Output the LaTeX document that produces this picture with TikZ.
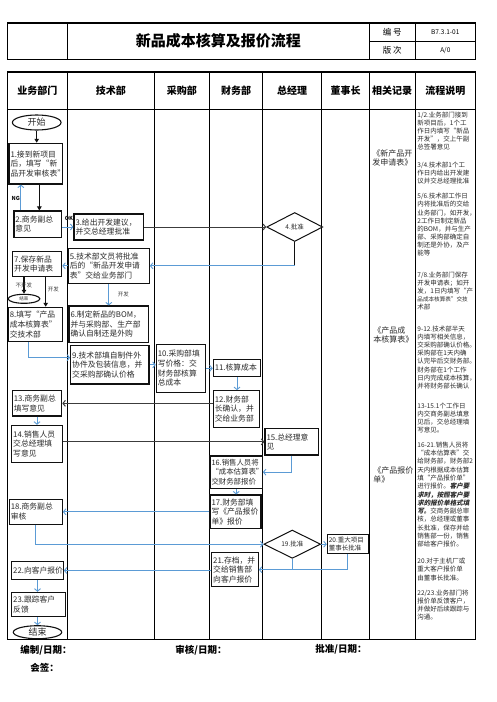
\documentclass[tikz,border=0pt]{standalone}
\usepackage{fontspec}
\setmainfont{Noto Sans CJK SC}
\newfontfamily\slfont[FakeSlant=0.2]{Noto Sans CJK SC}
\usetikzlibrary{arrows.meta,shapes.geometric,calc}
\definecolor{ink}{HTML}{111111}
\definecolor{ink2}{HTML}{3C3C3C}
\definecolor{txt}{HTML}{2B2B2B}
\definecolor{cblue}{HTML}{5B9BD5}
\tikzset{
  every picture/.style={line width=0.8pt,font=\fontsize{7.8}{9.6}\selectfont},
  bx/.style={draw=ink,line width=1.1pt,fill=white,align=left,inner sep=1.5pt,text=txt},
  term/.style={ellipse,draw=ink,line width=1.1pt,inner sep=0pt,text=txt,font=\fontsize{9}{10}\selectfont},
  dec/.style={diamond,draw=ink,line width=1pt,inner sep=0pt,text=txt,font=\fontsize{6.5}{8}\selectfont},
  ba/.style={-{Straight Barb[length=2.5pt,width=6pt]},draw=cblue,line width=0.9pt},
  bl/.style={draw=cblue,line width=0.9pt},
  ga/.style={-{Straight Barb[length=2.5pt,width=6pt]},draw=ink2,line width=1pt},
  ka/.style={-{Triangle[length=4pt,width=4.5pt]},draw=ink,line width=1.1pt},
  lab/.style={inner sep=0.5pt,font=\fontsize{5.5}{6}\selectfont,text=ink2},
  hd/.style={font=\fontsize{10}{12}\selectfont\bfseries},
  note/.style={anchor=north west,align=left,inner sep=0pt,text=txt,font=\fontsize{6.5}{8.1}\selectfont},
  rec/.style={anchor=west,align=left,inner sep=0pt,text=txt,font=\fontsize{8}{9}\selectfont},
  foot/.style={anchor=west,inner sep=0pt,font=\fontsize{9.5}{11}\selectfont\bfseries},
}
\begin{document}
\begin{tikzpicture}[x=1pt,y=-1pt]
  \useasboundingbox (0,0) rectangle (496,702);
  \fill[white] (0,0) rectangle (496,702);
  % title block
  \draw[line width=1.2pt] (7.3,23) rectangle (475.7,59.3);
  \draw (67.3,23) -- (67.3,59.3) (369.3,23) -- (369.3,59.3) (415,23) -- (415,59.3);
  \draw[line width=1.2pt] (369.3,41.2) -- (475.7,41.2);
  \node[font=\fontsize{15}{18}\selectfont\bfseries] (title) at (218.3,41.2) {新品成本核算及报价流程};
  \node[font=\fontsize{8.5}{10}\selectfont] (no) at (392.2,32.2) {编 号};
  \node[font=\fontsize{8.5}{10}\selectfont] (ver) at (392.2,50.2) {版 次};
  \node[font=\fontsize{6.5}{8}\selectfont] (nov) at (445.3,32.2) {B7.3.1-01};
  \node[font=\fontsize{6.5}{8}\selectfont] (verv) at (445.3,50.2) {A/0};
  % lanes
  \draw[line width=1.4pt] (7.3,72) rectangle (475.7,639.3);
  \draw[line width=1.4pt] (7.3,109.3) -- (475.7,109.3);
  \foreach \x in {67.3,154.3,209.3,262.7,321.7,369.3,415} \draw[line width=1pt] (\x,72) -- (\x,639.3);
  \foreach \x/\n [count=\i] in {37.3/业务部门,110.8/技术部,181.8/采购部,236/财务部,292.2/总经理,345.5/董事长,392.2/相关记录,445.3/流程说明}
    \node[hd] (lane\i) at (\x,90.5) {\n};

  \node[term,minimum width=48.7pt,minimum height=15pt] (s) at (36.7,122.5) {开始};
  \node[bx,text width=50.7pt,minimum height=40.7pt] (b1) at (35.85,163.65) {1.接到新项目\\后，填写“新\\品开发审核表”};
  \node[bx,text width=44.7pt,minimum height=26.3pt] (b2) at (37.85,224.15) {2.商务副总\\意见};
  \node[bx,text width=66.3pt,minimum height=26pt] (b3) at (108.65,227) {3.给出开发建议，\\并交总经理批准};
  \node[dec,minimum width=56pt,minimum height=29pt] (d4) at (294.7,227) {4.批准};
  \node[bx,text width=78pt,minimum height=35pt] (b5) at (108.8,265.8) {5.技术部文员将批准\\后的“新品开发申请\\表”交给业务部门};
  \node[bx,text width=46pt,minimum height=25pt] (b7) at (37.2,264.2) {7.保存新品\\开发申请表};
  \node[term,minimum width=31.7pt,minimum height=9pt,font=\fontsize{4.5}{5}\selectfont] (e0) at (24,298.8) {结束};
  \node[bx,text width=51pt,minimum height=34.4pt] (b8) at (35.3,324.5) {8.填写“产品\\成本核算表”\\交技术部};
  \node[bx,text width=76.3pt,minimum height=36.3pt] (b6) at (108.65,324.15) {6.制定新品的BOM，\\并与采购部、生产部\\确认自制还是外购};
  \node[bx,text width=75.3pt,minimum height=38.3pt] (b9) at (109.85,364.85) {9.技术部填自制件外\\协件及包装信息，并\\交采购部确认价格};
  \node[bx,text width=46.4pt,minimum height=48pt] (b10) at (181,368.3) {10.采购部填\\写价格：交\\财务部核算\\总成本};
  \node[bx,text width=44.4pt,minimum height=17.4pt] (b11) at (237,368) {11.核算成本};
  \node[bx,text width=43pt,minimum height=36.6pt] (b12) at (236.3,409) {12.财务部\\长确认，并\\交给业务部};
  \node[bx,text width=46.4pt,minimum height=25.3pt] (b13) at (37,403.35) {13.商务副总\\填写意见};
  \node[bx,text width=47.6pt,minimum height=37pt] (b14) at (37,443.8) {14.销售人员\\交总经理填\\写意见};
  \node[bx,text width=50.3pt,minimum height=26.3pt] (b15) at (291.65,441.85) {15.总经理意\\见};
  \node[bx,text width=49.3pt,minimum height=32.3pt,font=\fontsize{7.4}{9.4}\selectfont] (b16) at (236.15,472.15) {16.销售人员将\\“成本估算表”\\交财务部报价};
  \node[bx,text width=48pt,minimum height=33.3pt] (b17) at (235.5,511.65) {17.财务部填\\写《产品报价\\单》报价};
  \node[bx,text width=50pt,minimum height=25pt] (b18) at (35.8,511.8) {18.商务副总\\审核};
  \node[dec,minimum width=56.7pt,minimum height=28.3pt] (d19) at (292.3,544.2) {19.批准};
  \node[bx,text width=38pt,minimum height=19pt,font=\fontsize{6.5}{8}\selectfont] (b20) at (347.8,543.8) {20.重大项目\\董事长批准};
  \node[bx,text width=43.6pt,minimum height=34pt] (b21) at (235,569.7) {21.存档，并\\交给销售部\\向客户报价};
  \node[bx,text width=48.6pt,minimum height=17.6pt] (b22) at (37.5,570.5) {22.向客户报价};
  \node[bx,text width=50.6pt,minimum height=24.4pt] (b23) at (38.5,604.5) {23.跟踪客户\\反馈};
  \node[term,minimum width=48.4pt,minimum height=13pt] (e1) at (37.5,632.2) {结束};

  \draw[ka] (s.south) -- (s.south |- b1.north);
  \draw[ka] ([xshift=3.5pt]b1.south) -- ([xshift=3.5pt]b1.south |- b2.north);
  \draw[ba] ([xshift=-17pt]b2.north) -- ([xshift=-17pt]b2.north |- b1.south) node[pos=0.45,anchor=east,lab,font=\fontsize{5.5}{6}\selectfont\bfseries,text=ink] (ng) {NG};
  \draw[ba] (b2.east |- b3.west) -- (b3.west) node[pos=0.6,above=5pt,lab,font=\fontsize{5.5}{6}\selectfont\bfseries,text=ink] (ok) {OK};
  \draw[ga] (b3.east) -- (d4.west);
  \draw[ink] (d4.south) -- (d4.south |- b5.east) coordinate (c4);
  \draw[ba] (c4) -- (b5.east);
  \draw[ba] (b5.west) -- (b5.west -| b7.east);
  \draw[ka] (b7.south -| e0.north) -- (e0.north) node[midway,lab] (nd) {不开发};
  \draw[ka] ([xshift=8.5pt]b7.south) -- ([xshift=8.5pt]b7.south |- b8.north) node[pos=0.4,right=1pt,lab] (kf1) {开发};
  \draw[ba] (b5.south) -- (b5.south |- b6.north) node[midway,right=8pt,lab] (kf2) {开发};
  \draw[ba] ([xshift=-7pt]b8.south) |- ([yshift=7.2pt]b9.west);
  \draw[ba] (b9.east) -- (b9.east -| b10.west);
  \draw[ba] (b10.east) -- (b10.east -| b11.west);
  \draw[ba] (b11.south) -- (b11.south |- b12.north);
  \draw[ga] (b12.west |- b13.east) -- (b13.east);
  \draw[ba] (b13.south) -- (b13.south |- b14.north);
  \draw[ga] (b14.east |- b15.west) -- (b15.west);
  \draw[ba] (b15.south) |- (b16.east);
  \draw[ba] (b16.south) -- (b16.south |- b17.north);
  \draw[ba] (b17.west |- b18.east) -- (b18.east);
  \draw[ba] (b18.south) |- (d19.west);
  \draw[ba] (d19.east) -- (d19.east -| b20.west);
  \draw[bl] (d19.south) -- (d19.south |- b21.east);
  \draw[ba] (b20.south) |- (b21.east);
  \draw[ba] (b21.west |- b22.east) -- (b22.east);
  \draw[ba] (b22.south) -- (b22.south |- b23.north);
  \draw[ba] (b23.south -| e1.north) -- (e1.north);

  \node[rec] (r1) at (372,157.5) {《新产品开\\发申请表》};
  \node[rec] (r2) at (373,334.7) {《产品成\\本核算表》};
  \node[rec] (r3) at (373,475.3) {《产品报价\\单》};

  \node[note] (n1) at (417,111.4) {1/2.业务部门接到\\新项目后，1个工\\作日内填写“新品\\开发”，交上午副\\总签署意见};
  \node[note] (n2) at (417,161.4) {3/4.技术部1个工\\作日内给出开发建\\议并交总经理批准};
  \node[note] (n3) at (417,193) {5/6.技术部工作日\\内将批准后的交给\\业务部门，如开发，\\2工作日制定新品\\的BOM，并与生产\\部、采购部确定自\\制还是外协，及产\\能等};
  \node[note] (n4) at (417,271.4) {7/8.业务部门保存\\开发申请表；如开\\发，1日内填写“产\\{\fontsize{5.6}{8.1}\selectfont 品成本核算表”交技}\\术部};
  \node[note] (n5) at (417,325.7) {9-12.技术部半天\\内填写相关信息，\\交采购部确认价格。\\采购部在1天内确\\认完毕后交财务部。\\财务部在1个工作\\日内完成成本核算，\\并将财务部长确认};
  \node[note] (n6) at (417,402.5) {13-15.1个工作日\\内交商务副总填意\\见后，交总经理填\\写意见。};
  \node[note,font=\fontsize{6.5}{8.3}\selectfont] (n7) at (417,441.4) {16-21.销售人员将\\“成本估算表”交\\给财务部，财务部2\\天内根据成本估算\\填“产品报价单”\\进行报价。{\slfont\bfseries 客户要}\\{\slfont\bfseries 求时，按照客户要}\\{\slfont\bfseries 求的报价单格式填}\\{\slfont\bfseries 写。}交商务副总审\\核，总经理或董事\\长批准，保存并给\\销售部一份，销售\\部给客户报价。};
  \node[note] (n8) at (417,558) {20.对于主机厂或\\重大客户报价单\\由董事长批准。};
  \node[note] (n9) at (417,589.7) {22/23.业务部门将\\报价单反馈客户，\\并做好后续跟踪与\\沟通。};

  \node[foot] (f1) at (20,650) {编制/日期：};
  \node[foot] (f2) at (175,650) {审核/日期：};
  \node[foot] (f3) at (315,649.5) {批准/日期：};
  \node[foot] (f4) at (30,668) {会签：};
\end{tikzpicture}
\end{document}
